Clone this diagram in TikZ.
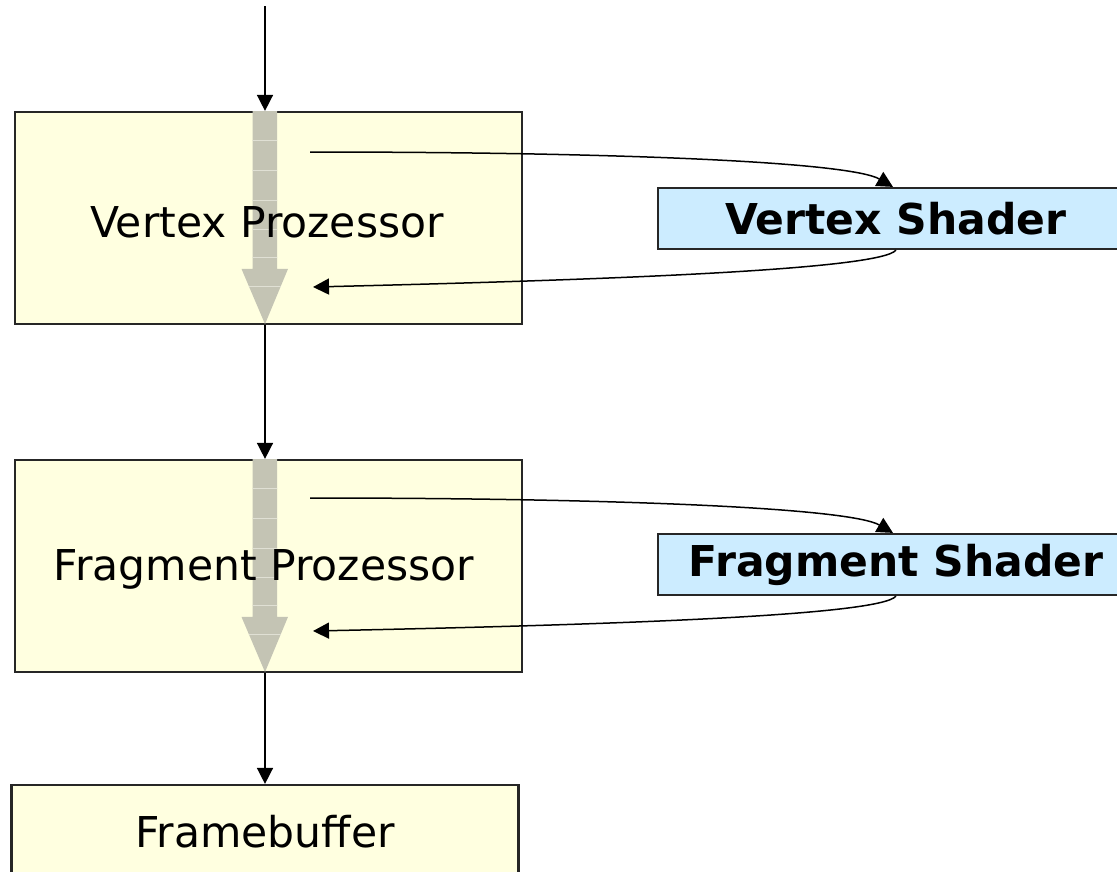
\documentclass[tikz,border=0pt]{standalone}
\usepackage{fontspec}
\setmainfont{DejaVu Sans}
\usetikzlibrary{arrows.meta}
\usetikzlibrary{calc}

\definecolor{procfill}{RGB}{255,255,224}
\definecolor{shadfill}{RGB}{204,236,255}
\definecolor{flowgray}{RGB}{196,196,180}
\definecolor{flowline}{RGB}{224,224,212}

\tikzset{
  procbox/.style={draw=black!85, line width=2.2pt, fill=procfill, minimum width=507pt, minimum height=212pt, inner sep=0pt},
  shadbox/.style={draw=black!85, line width=2.2pt, fill=shadfill, minimum width=476pt, minimum height=61pt, inner sep=0pt, font=\fontsize{42.5}{46}\selectfont\bfseries},
  proctext/.style={inner sep=0pt, font=\fontsize{42.5}{46}\selectfont},
  flow/.style={line width=1.5pt, -{Triangle[length=16pt,width=16pt]}},
}

\newcommand{\grayflow}[1]{%
  % thick gray arrow inside a processor box
  \begin{scope}
    \path[clip] ($(#1.north)+(-16,0)$) -- ++(0,158) -- ++(-11,0) -- ($(#1.south)+(-3.5,-1)$)
      -- ($(#1.north)+(19.5,158)$) -- ++(-11,0) -- ($(#1.north)+(8.5,0)$) -- cycle;
    \fill[flowgray] ($(#1.north west)+(0,0)$) rectangle ($(#1.south east)$);
    \foreach \dy in {30,60,90,119,147,176}
      \draw[flowline, line width=1pt] ($(#1.north)+(-40,\dy)$) -- ++(80,0);
  \end{scope}
}

\begin{document}
\begin{tikzpicture}[x=1pt,y=-1pt]
\useasboundingbox (0,0) rectangle (1117,871);
\clip (0,0) rectangle (1117,871);

% processor boxes
\node[procbox] (vp) at (268.5,218) {};
\grayflow{vp}
\node[proctext] (vptext) at (267,222) {Vertex Prozessor};

\node[procbox] (fp) at (268.5,566) {};
\grayflow{fp}
\node[proctext] (fptext) at (264,569) {Fragment Prozessor};

\node[procbox, minimum height=92pt] (fb) at (265,831) {};
\node[proctext] (fbtext) at (265,832) {Framebuffer};

% shader boxes
\node[shadbox] (vs) at (896,218.5) {Vertex Shader};
\node[shadbox] (fs) at (896,564.5) {Fragment Shader};

% pipeline
\coordinate (start) at (265,6);
\draw[flow] (start) -- (start |- vp.north);
\draw[flow] (start |- vp.south) -- (start |- fp.north);
\draw[flow] (start |- fp.south) -- (start |- fb.north);

% shader calls
\coordinate (vpout) at (310,152);
\coordinate (vpin) at (313,287);
\draw[flow] (vpout) .. controls (620,152) and (850,162) .. ($(vs.north)+(-3,0)$);
\draw[flow] (vs.south) .. controls (880,270) and (600,280) .. (vpin);

\coordinate (fpout) at (310,498);
\coordinate (fpin) at (313,631);
\draw[flow] (fpout) .. controls (620,498) and (850,508) .. ($(fs.north)+(-3,0)$);
\draw[flow] (fs.south) .. controls (880,616) and (600,625) .. (fpin);
\end{tikzpicture}
\end{document}
